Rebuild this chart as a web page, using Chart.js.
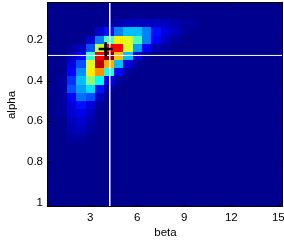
<!DOCTYPE html>
<html>
<head>
<meta charset="utf-8">
<script src="https://cdn.jsdelivr.net/npm/chart.js@4"></script>
<style>
  html, body { margin: 0; padding: 0; background: #fff; }
</style>
</head>
<body>
<canvas id="chart" width="284" height="244"></canvas>
<script>
// grid centres
const betaValues = [0.6, 1.2, 1.8, 2.4, 3, 3.6, 4.2, 4.8, 5.4, 6, 6.6, 7.2, 7.8, 8.4, 9, 9.6, 10.2, 10.8, 11.4, 12, 12.6, 13.2, 13.8, 14.4, 15];
const alphaValues = [0.04, 0.08, 0.12, 0.16, 0.2, 0.24, 0.28, 0.32, 0.36, 0.4, 0.44, 0.48, 0.52, 0.56, 0.6, 0.64, 0.68, 0.72, 0.76, 0.8, 0.84, 0.88, 0.92, 0.96, 1];

// density, one row per alpha value, one column per beta value (0..1)
const density = [
  [0, 0, 0, 0, 0, 0, 0, 0, 0, 0, 0, 0, 0, 0, 0, 0, 0, 0, 0, 0, 0, 0, 0, 0, 0],
  [0, 0, 0, 0, 0, 0, 0, 0, 0, 0, 0, 0, 0, 0, 0, 0, 0, 0, 0, 0, 0, 0, 0, 0, 0],
  [0, 0, 0, 0, 0, 0, 0.03, 0.04, 0.05, 0.05, 0.06, 0.06, 0.05, 0.04, 0.03, 0.02, 0, 0, 0, 0, 0, 0, 0, 0, 0],
  [0, 0, 0, 0, 0.01, 0.07, 0.13, 0.24, 0.3, 0.3, 0.24, 0.14, 0.08, 0.05, 0.03, 0.01, 0, 0, 0, 0, 0, 0, 0, 0, 0],
  [0, 0, 0, 0.01, 0.07, 0.24, 0.45, 0.63, 0.59, 0.43, 0.24, 0.11, 0.06, 0.03, 0, 0, 0, 0, 0, 0, 0, 0, 0, 0, 0],
  [0, 0, 0.02, 0.06, 0.2, 0.56, 0.87, 0.87, 0.58, 0.28, 0.11, 0.04, 0.02, 0, 0, 0, 0, 0, 0, 0, 0, 0, 0, 0, 0],
  [0, 0.01, 0.05, 0.11, 0.42, 0.87, 1, 0.68, 0.3, 0.09, 0.03, 0, 0, 0, 0, 0, 0, 0, 0, 0, 0, 0, 0, 0, 0],
  [0, 0.01, 0.08, 0.2, 0.59, 0.93, 0.7, 0.3, 0.08, 0.02, 0, 0, 0, 0, 0, 0, 0, 0, 0, 0, 0, 0, 0, 0, 0],
  [0, 0.01, 0.12, 0.26, 0.63, 0.72, 0.38, 0.12, 0.03, 0, 0, 0, 0, 0, 0, 0, 0, 0, 0, 0, 0, 0, 0, 0, 0],
  [0, 0.02, 0.17, 0.3, 0.5, 0.37, 0.12, 0.03, 0, 0, 0, 0, 0, 0, 0, 0, 0, 0, 0, 0, 0, 0, 0, 0, 0],
  [0, 0.02, 0.19, 0.28, 0.33, 0.14, 0.04, 0, 0, 0, 0, 0, 0, 0, 0, 0, 0, 0, 0, 0, 0, 0, 0, 0, 0],
  [0, 0.02, 0.12, 0.22, 0.2, 0.06, 0.01, 0, 0, 0, 0, 0, 0, 0, 0, 0, 0, 0, 0, 0, 0, 0, 0, 0, 0],
  [0, 0.02, 0.09, 0.14, 0.09, 0.03, 0, 0, 0, 0, 0, 0, 0, 0, 0, 0, 0, 0, 0, 0, 0, 0, 0, 0, 0],
  [0, 0.02, 0.07, 0.1, 0.06, 0.01, 0, 0, 0, 0, 0, 0, 0, 0, 0, 0, 0, 0, 0, 0, 0, 0, 0, 0, 0],
  [0, 0.01, 0.06, 0.07, 0.04, 0, 0, 0, 0, 0, 0, 0, 0, 0, 0, 0, 0, 0, 0, 0, 0, 0, 0, 0, 0],
  [0, 0.01, 0.04, 0.05, 0.02, 0, 0, 0, 0, 0, 0, 0, 0, 0, 0, 0, 0, 0, 0, 0, 0, 0, 0, 0, 0],
  [0, 0, 0.03, 0.03, 0.01, 0, 0, 0, 0, 0, 0, 0, 0, 0, 0, 0, 0, 0, 0, 0, 0, 0, 0, 0, 0],
  [0, 0, 0.015, 0.01, 0, 0, 0, 0, 0, 0, 0, 0, 0, 0, 0, 0, 0, 0, 0, 0, 0, 0, 0, 0, 0],
  [0, 0, 0, 0, 0, 0, 0, 0, 0, 0, 0, 0, 0, 0, 0, 0, 0, 0, 0, 0, 0, 0, 0, 0, 0],
  [0, 0, 0, 0, 0, 0, 0, 0, 0, 0, 0, 0, 0, 0, 0, 0, 0, 0, 0, 0, 0, 0, 0, 0, 0],
  [0, 0, 0, 0, 0, 0, 0, 0, 0, 0, 0, 0, 0, 0, 0, 0, 0, 0, 0, 0, 0, 0, 0, 0, 0],
  [0, 0, 0, 0, 0, 0, 0, 0, 0, 0, 0, 0, 0, 0, 0, 0, 0, 0, 0, 0, 0, 0, 0, 0, 0],
  [0, 0, 0, 0, 0, 0, 0, 0, 0, 0, 0, 0, 0, 0, 0, 0, 0, 0, 0, 0, 0, 0, 0, 0, 0],
  [0, 0, 0, 0, 0, 0, 0, 0, 0, 0, 0, 0, 0, 0, 0, 0, 0, 0, 0, 0, 0, 0, 0, 0, 0],
  [0, 0, 0, 0, 0, 0, 0, 0, 0, 0, 0, 0, 0, 0, 0, 0, 0, 0, 0, 0, 0, 0, 0, 0, 0],
];

// crosshair and marked estimate
const crossBeta = 4.24;
const crossAlpha = 0.277;
const estimateBeta = [3.98];
const estimateAlpha = [0.245];

const xTicks = [3, 6, 9, 12, 15];
const xTickLabels = ['3', '6', '9', '12', '15'];
const yTicks = [0.2, 0.4, 0.6, 0.8, 1];
const yTickLabels = ['0.2', '0.4', '0.6', '0.8', '1'];

const FONT = 'Liberation Sans, Arial, Helvetica, sans-serif';

// matlab jet(64)
function jet(v) {
  const k = Math.min(64, Math.floor(v * 64) + 1);
  const cl = t => Math.round(255 * Math.max(0, Math.min(1, t)));
  const r = Math.min((k - 24) / 16, 1, (72 - k) / 16);
  const g = Math.min((k - 8) / 16, 1, (56 - k) / 16);
  const b = Math.min((k + 8) / 16, 1, (40 - k) / 16);
  return `rgb(${cl(r)},${cl(g)},${cl(b)})`;
}

const dBeta = (betaValues[1] - betaValues[0]) / 2;
const dAlpha = (alphaValues[1] - alphaValues[0]) / 2;
const betaLim = [betaValues[0] - dBeta, betaValues[betaValues.length - 1] + dBeta];
const alphaLim = [alphaValues[0] - dAlpha, alphaValues[alphaValues.length - 1] + dAlpha];

const heatmapPlugin = {
  id: 'heatmap',
  beforeDatasetsDraw(chart) {
    const { ctx, chartArea: a, scales: { x, y } } = chart;
    ctx.save();
    ctx.beginPath();
    ctx.rect(a.left, a.top, a.width, a.height);
    ctx.clip();
    density.forEach((row, j) => {
      row.forEach((v, i) => {
        const x0 = Math.round(x.getPixelForValue(betaValues[i] - dBeta));
        const x1 = Math.round(x.getPixelForValue(betaValues[i] + dBeta));
        const y0 = Math.round(y.getPixelForValue(alphaValues[j] - dAlpha));
        const y1 = Math.round(y.getPixelForValue(alphaValues[j] + dAlpha));
        ctx.fillStyle = jet(v);
        ctx.fillRect(x0, Math.min(y0, y1), x1 - x0, Math.abs(y1 - y0));
      });
    });
    ctx.restore();
  },
  afterDraw(chart) {
    // axes box and inward ticks
    const { ctx, chartArea: a, scales: { x, y } } = chart;
    ctx.save();
    ctx.strokeStyle = '#000';
    ctx.lineWidth = 1;
    ctx.strokeRect(a.left - 0.5, a.top - 0.5, a.width, a.height);
    ctx.beginPath();
    x.ticks.forEach(t => {
      const px = Math.round(x.getPixelForValue(t.value)) + 0.5;
      ctx.moveTo(px, a.bottom); ctx.lineTo(px, a.bottom - 3);
      ctx.moveTo(px, a.top); ctx.lineTo(px, a.top + 3);
    });
    y.ticks.forEach(t => {
      const py = Math.round(y.getPixelForValue(t.value)) + 0.5;
      ctx.moveTo(a.left, py); ctx.lineTo(a.left + 3, py);
      ctx.moveTo(a.right, py); ctx.lineTo(a.right - 3, py);
    });
    ctx.stroke();
    ctx.restore();
  },
};

const noPad = s => {
  s.paddingLeft = 0; s.paddingRight = 0; s.paddingTop = 0; s.paddingBottom = 0;
};

const ctx = document.getElementById('chart').getContext('2d');

new Chart(ctx, {
  type: 'scatter',
  data: {
    datasets: [
      {
        data: estimateBeta.map((b, i) => ({ x: b, y: estimateAlpha[i] })),
        pointStyle: 'cross',
        pointRadius: 7,
        pointBorderWidth: 2.5,
        borderColor: '#000',
        backgroundColor: '#000',
      },
      {
        type: 'line',
        data: [{ x: crossBeta, y: alphaLim[0] }, { x: crossBeta, y: alphaLim[1] }],
        borderColor: '#fff',
        borderWidth: 1,
        pointRadius: 0,
      },
      {
        type: 'line',
        data: [{ x: betaLim[0], y: crossAlpha }, { x: betaLim[1], y: crossAlpha }],
        borderColor: '#fff',
        borderWidth: 1,
        pointRadius: 0,
      },
    ],
  },
  options: {
    responsive: false,
    animation: false,
    layout: { autoPadding: false, padding: { top: 3, right: 1, left: 0, bottom: 0 } },
    plugins: {
      legend: { display: false },
      tooltip: { enabled: false },
    },
    scales: {
      x: {
        type: 'linear',
        min: betaLim[0],
        max: betaLim[1],
        afterBuildTicks: s => { s.ticks = xTicks.map(v => ({ value: v })); },
        afterFit: s => { s.height = 37; noPad(s); },
        ticks: {
          color: '#000',
          font: { family: FONT, size: 11.5 },
          padding: 4,
          maxRotation: 0,
          autoSkip: false,
          callback: (v, i) => xTickLabels[i],
        },
        grid: { display: false, drawTicks: false },
        border: { display: false },
        title: {
          display: true,
          text: 'beta',
          color: '#000',
          font: { family: FONT, size: 11.5, lineHeight: 2 },
          padding: 0,
        },
      },
      y: {
        type: 'linear',
        reverse: true,
        min: alphaLim[0],
        max: alphaLim[1],
        afterBuildTicks: s => { s.ticks = yTicks.map(v => ({ value: v })); },
        afterFit: s => { s.width = 48; noPad(s); },
        ticks: {
          color: '#000',
          font: { family: FONT, size: 11.5 },
          padding: 5,
          autoSkip: false,
          callback: (v, i) => yTickLabels[i],
        },
        grid: { display: false, drawTicks: false },
        border: { display: false },
        title: {
          display: true,
          text: 'alpha',
          color: '#000',
          font: { family: FONT, size: 11.5, lineHeight: 2 },
          padding: 0,
        },
      },
    },
  },
  plugins: [heatmapPlugin],
});
</script>
</body>
</html>
